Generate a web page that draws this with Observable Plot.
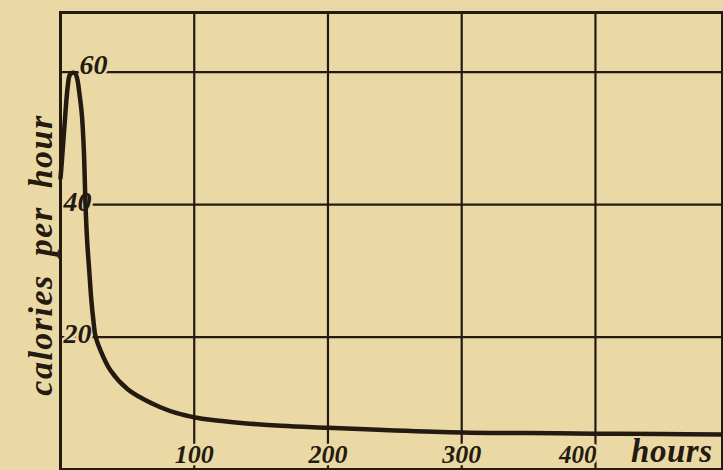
<!DOCTYPE html>
<html>
<head>
<meta charset="utf-8">
<script src="https://cdn.jsdelivr.net/npm/d3@7"></script>
<script src="https://cdn.jsdelivr.net/npm/@observablehq/plot@0.6"></script>
<style>
  html, body { margin: 0; padding: 0; background: #ebd9a5; }
  #chart svg { display: block; }
</style>
</head>
<body>
<div id="chart"></div>
<script>
// Data
const hours    = [0, 1, 3, 5.5, 7, 9, 11, 12.5, 14, 16, 17.5, 18.7, 19.9, 21.5, 23.1, 24.6, 26.1, 29.9, 37.3, 49.8, 62.2, 74.7, 87, 100.8, 112, 137, 165, 200, 250, 300, 350, 400, 450, 495];
const calories = [44, 46.5, 52, 58, 59.6, 59.9, 59.8, 59, 57, 53.5, 48, 40, 34.6, 30.0, 25.5, 22.5, 20.2, 18.0, 15.0, 12.2, 10.6, 9.4, 8.5, 7.85, 7.5, 7.0, 6.6, 6.3, 5.9, 5.6, 5.5, 5.4, 5.35, 5.3];
const xTicks = [100, 200, 300, 400];
const xTickLabels = ["100", "200", "300", "400"];
const yTicks = [20, 40, 60];
const yTickLabels = ["20", "40", "60"];
const xLabel = "hours";
const yLabel = "calories per hour";

const bg = "#ebd9a5";
const ink = "#241a10";

const curveData = hours.map((h, i) => ({h, c: calories[i]}));
const xTickTable = xTicks.map((v, i) => ({v, label: xTickLabels[i]}));
const yTickTable = yTicks.map((v, i) => ({v, label: yTickLabels[i]}));

const font = {fontStyle: "italic", fontWeight: "bold", fill: ink};

const svg = Plot.plot({
  width: 723,
  height: 470,
  marginLeft: 60,
  marginRight: 1,
  marginTop: 12,
  marginBottom: 1,
  x: {domain: [0, 495], axis: null},
  y: {domain: [0, 69], axis: null},
  style: {background: bg, fontFamily: "'Liberation Serif', 'DejaVu Serif', serif"},
  marks: [
    Plot.ruleY(yTicks, {stroke: ink, strokeWidth: 2.2}),
    Plot.ruleX(xTicks, {stroke: ink, strokeWidth: 2.2}),
    // y tick labels
    Plot.text(yTickTable.filter(d => d.v !== 60), {x: 0, y: "v", text: "label", textAnchor: "start", dx: 3, dy: -3, fontSize: 28, ...font, stroke: bg, strokeWidth: 5}),
    Plot.text(yTickTable.filter(d => d.v === 60), {x: 0, y: "v", text: "label", textAnchor: "start", dx: 19, dy: -7, fontSize: 28, ...font, stroke: bg, strokeWidth: 5}),
    // x tick labels
    Plot.text(xTickTable.filter(d => d.v !== 400), {x: "v", text: "label", frameAnchor: "bottom", textAnchor: "middle", lineAnchor: "bottom", dy: -7, fontSize: 26, ...font, stroke: bg, strokeWidth: 5}),
    Plot.text(xTickTable.filter(d => d.v === 400), {x: "v", text: "label", frameAnchor: "bottom", textAnchor: "end", lineAnchor: "bottom", dx: 1, dy: -7, fontSize: 25, ...font, stroke: bg, strokeWidth: 5}),
    // the curve
    Plot.line(curveData, {x: "h", y: "c", curve: "catmull-rom", stroke: ink, strokeWidth: 4.5, strokeLinejoin: "round", strokeLinecap: "round"}),
    // frame
    Plot.frame({stroke: ink, strokeWidth: 3}),
    // axis labels
    Plot.text([xLabel], {frameAnchor: "bottom-right", textAnchor: "end", lineAnchor: "bottom", dx: -10, dy: -8, fontSize: 33, ...font, stroke: bg, strokeWidth: 4}),
    Plot.text([yLabel], {frameAnchor: "left", rotate: -90, textAnchor: "middle", lineAnchor: "bottom", dx: -9, dy: 14, fontSize: 34, ...font})
  ]
});

d3.select(svg).selectAll("text").each(function() {
  const t = this.textContent;
  if (t === xLabel) this.setAttribute("letter-spacing", "0.5");
  if (t === yLabel) { this.setAttribute("letter-spacing", "1.5"); this.setAttribute("word-spacing", "8"); }
});

document.getElementById("chart").appendChild(svg);
</script>
</body>
</html>
